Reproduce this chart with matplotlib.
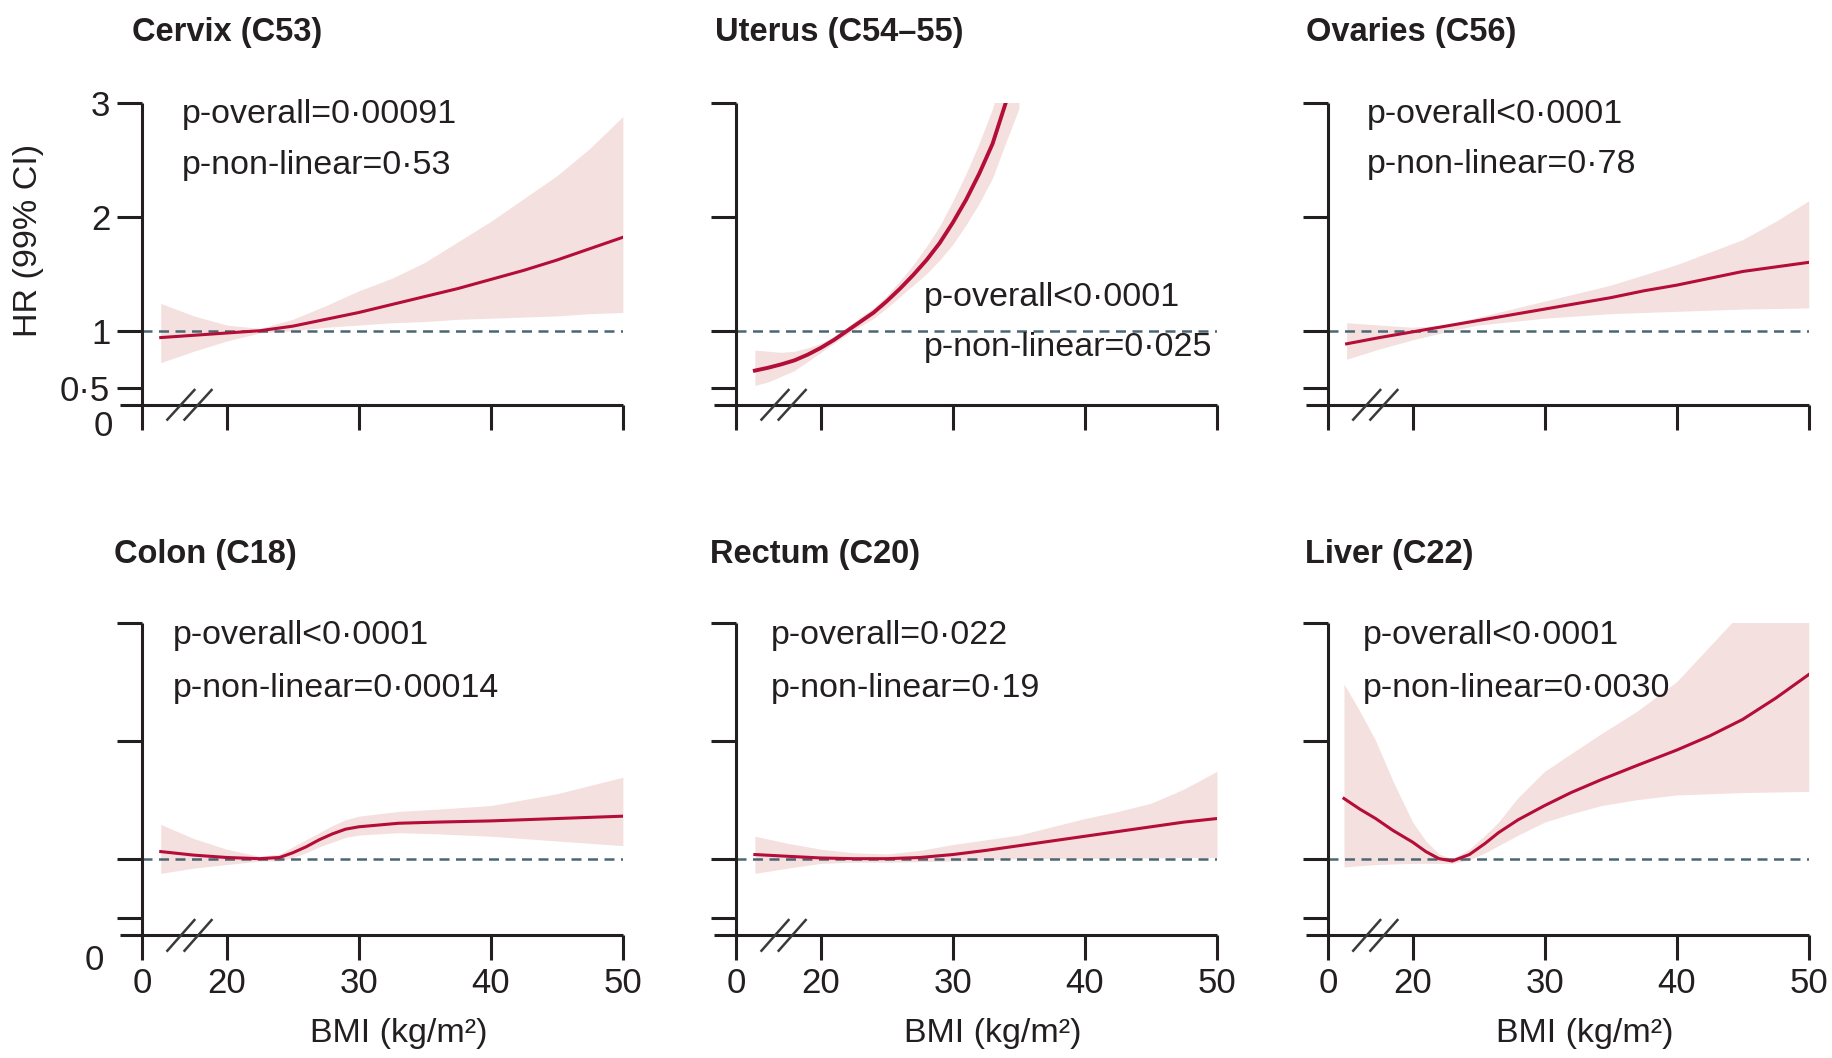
import matplotlib
matplotlib.use("Agg")
import matplotlib.pyplot as plt

plt.rcParams['font.family'] = ['Liberation Sans', 'DejaVu Sans']

# ---- data (BMI in kg/m2, HR with 99% CI) ----
cervix_bmi = [15, 17.5, 20, 22.5, 25, 27.5, 30, 32.5, 35, 37.5, 40, 42.5, 45, 47.5, 50]
cervix_hr = [0.94, 0.96, 0.98, 1.0, 1.04, 1.10, 1.16, 1.23, 1.30, 1.37, 1.45, 1.53, 1.62, 1.72, 1.82]
cervix_hi = [1.24, 1.13, 1.05, 1.02, 1.10, 1.22, 1.35, 1.46, 1.60, 1.78, 1.96, 2.16, 2.36, 2.60, 2.88]
cervix_lo = [0.72, 0.82, 0.91, 0.98, 1.00, 1.03, 1.05, 1.07, 1.08, 1.10, 1.11, 1.12, 1.13, 1.15, 1.16]

uterus_bmi = [15, 16, 17, 18, 19, 20, 21, 22, 23, 24, 25, 26, 27, 28, 29, 30, 31, 32, 33, 34, 35]
uterus_hr = [0.65, 0.675, 0.705, 0.74, 0.79, 0.85, 0.92, 1.0, 1.08, 1.16, 1.26, 1.37, 1.49, 1.62, 1.77, 1.95, 2.15, 2.38, 2.64, 3.0, 3.3]
uterus_hi = [0.83, 0.82, 0.81, 0.82, 0.85, 0.89, 0.95, 1.03, 1.12, 1.20, 1.31, 1.44, 1.58, 1.74, 1.92, 2.14, 2.38, 2.65, 2.95, 3.35, 3.7]
uterus_lo = [0.52, 0.55, 0.60, 0.65, 0.73, 0.81, 0.89, 0.97, 1.04, 1.11, 1.20, 1.30, 1.40, 1.50, 1.62, 1.76, 1.93, 2.12, 2.34, 2.65, 2.95]

ovary_bmi = [15, 17.5, 20, 22.5, 25, 27.5, 30, 32.5, 35, 37.5, 40, 42.5, 45, 47.5, 50]
ovary_hr = [0.885, 0.94, 0.99, 1.04, 1.09, 1.14, 1.19, 1.24, 1.29, 1.35, 1.40, 1.46, 1.52, 1.56, 1.60]
ovary_hi = [1.07, 1.05, 1.03, 1.05, 1.12, 1.19, 1.26, 1.33, 1.40, 1.49, 1.58, 1.69, 1.80, 1.96, 2.14]
ovary_lo = [0.75, 0.84, 0.92, 0.99, 1.05, 1.08, 1.11, 1.13, 1.15, 1.16, 1.17, 1.18, 1.19, 1.195, 1.20]

colon_bmi = [15, 17.5, 20, 22.5, 24, 25, 26, 27, 28, 29, 30, 33, 36, 40, 45, 50]
colon_hr = [1.06, 1.03, 1.01, 1.0, 1.01, 1.05, 1.10, 1.16, 1.21, 1.25, 1.27, 1.30, 1.31, 1.32, 1.34, 1.36]
colon_hi = [1.29, 1.17, 1.08, 1.02, 1.04, 1.10, 1.16, 1.22, 1.28, 1.33, 1.36, 1.40, 1.42, 1.45, 1.55, 1.69]
colon_lo = [0.875, 0.92, 0.95, 0.98, 0.98, 1.01, 1.05, 1.10, 1.14, 1.18, 1.20, 1.22, 1.21, 1.19, 1.15, 1.11]

rectum_bmi = [15, 17.5, 20, 22.5, 25, 27.5, 30, 32.5, 35, 37.5, 40, 42.5, 45, 47.5, 50]
rectum_hr = [1.035, 1.02, 1.006, 1.0, 1.0, 1.01, 1.035, 1.07, 1.11, 1.15, 1.19, 1.23, 1.27, 1.31, 1.34]
rectum_hi = [1.19, 1.13, 1.08, 1.05, 1.04, 1.07, 1.12, 1.16, 1.20, 1.27, 1.34, 1.40, 1.47, 1.59, 1.74]
rectum_lo = [0.875, 0.92, 0.96, 0.97, 0.97, 0.975, 0.98, 0.99, 1.0, 1.0, 1.0, 1.005, 1.005, 1.01, 1.01]

liver_bmi = [14.8, 16, 17.2, 18.5, 20, 21, 22, 23, 24.3, 25.5, 26.5, 28, 30, 32, 34.3, 37, 40, 42.5, 45, 47.5, 50]
liver_hr = [1.51, 1.42, 1.34, 1.24, 1.14, 1.06, 1.0, 0.98, 1.035, 1.13, 1.22, 1.33, 1.45, 1.56, 1.67, 1.79, 1.92, 2.04, 2.18, 2.36, 2.56]
liver_hi = [2.48, 2.25, 2.0, 1.66, 1.31, 1.15, 1.04, 1.0, 1.08, 1.20, 1.31, 1.52, 1.74, 1.89, 2.06, 2.25, 2.50, 2.80, 3.1, 3.3, 3.4]
liver_lo = [0.93, 0.94, 0.95, 0.955, 0.96, 0.96, 0.96, 0.96, 0.99, 1.05, 1.11, 1.20, 1.31, 1.38, 1.45, 1.50, 1.54, 1.55, 1.56, 1.565, 1.57]

titles = ['Cervix (C53)', 'Uterus (C54\u201355)', 'Ovaries (C56)',
          'Colon (C18)', 'Rectum (C20)', 'Liver (C22)']
p_overall = ['p-overall=0\u00b700091', 'p-overall<0\u00b70001', 'p-overall<0\u00b70001',
             'p-overall<0\u00b70001', 'p-overall=0\u00b7022', 'p-overall<0\u00b70001']
p_nonlin = ['p-non-linear=0\u00b753', 'p-non-linear=0\u00b7025', 'p-non-linear=0\u00b778',
            'p-non-linear=0\u00b700014', 'p-non-linear=0\u00b719', 'p-non-linear=0\u00b70030']
series = [(cervix_bmi, cervix_hr, cervix_lo, cervix_hi),
          (uterus_bmi, uterus_hr, uterus_lo, uterus_hi),
          (ovary_bmi, ovary_hr, ovary_lo, ovary_hi),
          (colon_bmi, colon_hr, colon_lo, colon_hi),
          (rectum_bmi, rectum_hr, rectum_lo, rectum_hi),
          (liver_bmi, liver_hr, liver_lo, liver_hi)]
xtick_pos = [13.6, 20, 30, 40, 50]
xtick_lab = ['0', '20', '30', '40', '50']
ytick_pos = [0.5, 1, 2, 3]
ytick_lab = ['0\u00b75', '1', '2', '3']

# layout
lefts = [0.0654, 0.3897, 0.7127]
rows = [(0.6174, 0.2854), (0.1159, 0.2956)]
title_xy = [(132, 33), (715, 33), (1306, 33), (114, 554), (710, 554), (1305, 554)]
ptext_xy = [(16.6, 2.90, 2.45), (27.8, 1.29, 0.85), (16.5, 2.90, 2.46),
            (15.9, 2.89, 2.44), (16.2, 2.89, 2.44), (16.2, 2.89, 2.44)]

ink = '#231f20'
line_col = '#b30d38'
band_col = '#f5e0e0'
ref_col = '#4b6672'
W, H = 1832, 1058

fig = plt.figure(figsize=(W / 100, H / 100), dpi=100)

for i in range(6):
    r, c = divmod(i, 3)
    bottom, height = rows[r]
    ax = fig.add_axes([lefts[c], bottom, 0.2746, height])
    bmi, hr, lo, hi = series[i]

    ax.fill_between(bmi, lo, hi, color=band_col, lw=0, zorder=1)
    ax.plot([13.6, 50], [1, 1], color=ref_col, lw=1.8, dashes=(4, 2.6), zorder=2)
    ax.plot(bmi, hr, color=line_col, lw=2.8 if i == 1 else 2.2, zorder=3,
            solid_joinstyle='round')

    ax.set_xlim(11.9, 50)
    ax.set_ylim(0.35, 3.0)
    for s in ['top', 'right']:
        ax.spines[s].set_visible(False)
    ax.spines['left'].set_position(('data', 13.6))
    for s in ['left', 'bottom']:
        ax.spines[s].set_linewidth(2.2)
        ax.spines[s].set_color(ink)
        ax.spines[s].set_capstyle('butt')

    ax.set_xticks(xtick_pos)
    ax.set_yticks(ytick_pos)
    ax.set_xticklabels(xtick_lab if r == 1 else [])
    ax.set_yticklabels(ytick_lab if i == 0 else [])
    ax.tick_params(direction='out', length=18, width=2.2, color=ink,
                   labelsize=25, labelcolor=ink, pad=5)

    # axis break marks
    for x0 in [15.5, 16.8]:
        ax.plot([x0, x0 + 2.05], [0.22, 0.48], color='#3a3a3a', lw=1.8,
                clip_on=False, zorder=4)

    px, py1, py2 = ptext_xy[i]
    ax.text(px, py1, p_overall[i], fontsize=24.5, color=ink, va='center', ha='left')
    ax.text(px, py2, p_nonlin[i], fontsize=24.5, color=ink, va='center', ha='left')

    tx, ty = title_xy[i]
    fig.text(tx / W, 1 - ty / H, titles[i], fontsize=23.5, fontweight='bold',
             color=ink, va='center', ha='left')

    if r == 1:
        ax.set_xlabel('BMI (kg/m\u00b2)', fontsize=24.5, color=ink, va='center')
        ax.xaxis.set_label_coords(0.554, -0.315)

fig.text(29 / W, 1 - 240 / H, 'HR (99% CI)', rotation=90, fontsize=24.5,
         color=ink, va='center', ha='center')
fig.text(103 / W, 1 - 427 / H, '0', fontsize=25, color=ink, va='center', ha='center')
fig.text(94 / W, 1 - 960 / H, '0', fontsize=25, color=ink, va='center', ha='center')

fig.savefig('out.png', dpi=100, facecolor='white')
